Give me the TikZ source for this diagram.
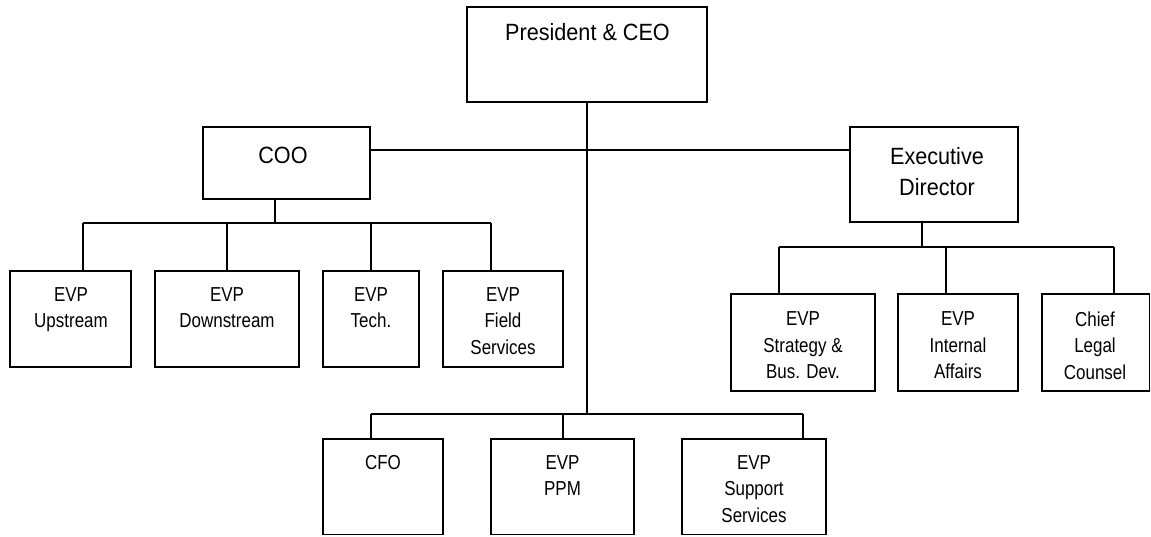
\documentclass[tikz,border=0pt]{standalone}
\usepackage{fontspec}
\newfontfamily\bigfont[FakeStretch=0.92]{Liberation Sans}
\newfontfamily\smallfont[FakeStretch=0.84]{Liberation Sans}
\tikzset{
  box/.style={draw=black, line width=1.6pt, rectangle, inner sep=0pt, fill=white},
  conn/.style={draw=black, line width=1.6pt},
  bigtxt/.style={inner sep=0pt, anchor=north, align=center, font=\bigfont\fontsize{23.5}{31.5}\selectfont},
  smalltxt/.style={inner sep=0pt, anchor=north, align=center, font=\smallfont\fontsize{20.2}{26.5}\selectfont},
}
\newcommand{\obox}[5]{%
  \node[box, minimum width={#4-#2}, minimum height={#5-#3}] (#1) at ({(#2+#4)/2},{(#3+#5)/2}) {};}
\begin{document}
\begin{tikzpicture}[x=1pt, y=-1pt]
\useasboundingbox (0,0) rectangle (1151,536);

% junction coordinates
\coordinate (cooline) at (370,150);
\coordinate (coobus) at (275,223);
\coordinate (coobusL) at (83,223);
\coordinate (coobusA) at (227,223);
\coordinate (coobusB) at (371,223);
\coordinate (coobusR) at (491,223);
\coordinate (edbus) at (922,247);
\coordinate (edbusL) at (779,247);
\coordinate (edbusM) at (946,247);
\coordinate (edbusR) at (1114,247);
\coordinate (botbus) at (587,414);
\coordinate (botbusL) at (371,414);
\coordinate (botbusM) at (563,414);
\coordinate (botbusR) at (803,414);

% boxes
\obox{ceo}{467}{7}{707}{102}
\obox{coo}{203}{127}{370}{199}
\obox{ed}{850}{127}{1018}{222}
\obox{up}{10}{271}{131}{367}
\obox{down}{155}{271}{299}{367}
\obox{tech}{323}{271}{419}{367}
\obox{field}{443}{271}{563}{367}
\obox{strat}{731}{294}{875}{391}
\obox{intern}{898}{294}{1018}{391}
\obox{legal}{1042}{294}{1149.5}{391}
\obox{cfo}{323}{439}{443}{534.5}
\obox{ppm}{491}{439}{634}{534.5}
\obox{supp}{682}{439}{826}{534.5}

% connectors
\draw[conn] (coo.east |- cooline) -- (ed.west |- cooline);
\draw[conn] (ceo.south) -- (botbus);
\draw[conn] (coo.south -| coobus) -- (coobus);
\draw[conn] (coobusL) -- (coobusR);
\draw[conn] (coobusL) -- (up.north -| coobusL);
\draw[conn] (coobusA) -- (down.north -| coobusA);
\draw[conn] (coobusB) -- (tech.north -| coobusB);
\draw[conn] (coobusR) -- (field.north -| coobusR);
\draw[conn] (ed.south -| edbus) -- (edbus);
\draw[conn] (edbusL) -- (edbusR);
\draw[conn] (edbusL) -- (strat.north -| edbusL);
\draw[conn] (edbusM) -- (intern.north -| edbusM);
\draw[conn] (edbusR) -- (legal.north -| edbusR);
\draw[conn] (botbusL) -- (botbusR);
\draw[conn] (botbusL) -- (cfo.north -| botbusL);
\draw[conn] (botbusM) -- (ppm.north -| botbusM);
\draw[conn] (botbusR) -- (supp.north -| botbusR);

% texts
\node[bigtxt] (ceo-t) at (587.5,23) {President \& CEO};
\node[bigtxt] (coo-t) at (283,147) {COO};
\node[bigtxt] (ed-t) at (937,147) {Executive\\Director};
\node[smalltxt] (up-t) at (71,287) {EVP\\Upstream};
\node[smalltxt] (down-t) at (227,287) {EVP\\Downstream};
\node[smalltxt] (tech-t) at (371,287) {EVP\\Tech.};
\node[smalltxt] (field-t) at (503,287) {EVP\\Field\\Services};
\node[smalltxt] (strat-t) at (803,311.5) {EVP\\Strategy \&\\Bus. Dev.};
\node[smalltxt] (intern-t) at (958,311.5) {EVP\\Internal\\Affairs};
\node[smalltxt] (legal-t) at (1095,311.5) {Chief\\Legal\\Counsel};
\node[smalltxt] (cfo-t) at (383,455) {CFO};
\node[smalltxt] (ppm-t) at (562.5,455) {EVP\\PPM};
\node[smalltxt] (supp-t) at (754,455) {EVP\\Support\\Services};
\end{tikzpicture}
\end{document}
